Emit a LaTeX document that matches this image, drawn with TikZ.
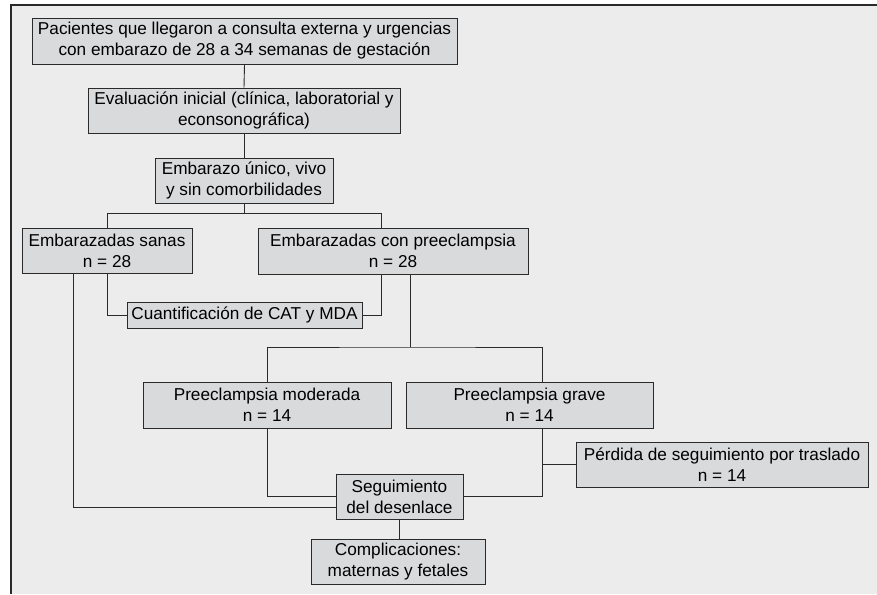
\documentclass[tikz,border=0pt]{standalone}
\usepackage{fontspec}
\setmainfont{Liberation Sans}
\usetikzlibrary{positioning,calc}
\definecolor{fondo}{HTML}{ECECEC}
\definecolor{caja}{HTML}{D9DADC}
\definecolor{linea}{HTML}{2A2A2A}
\tikzset{
  bx/.style={rectangle,draw=linea,fill=caja,line width=0.9pt,align=center,inner sep=0pt,
    font=\fontsize{17.2}{21}\selectfont},
  con/.style={draw=linea,line width=0.9pt},
}

\begin{document}
\begin{tikzpicture}[x=1pt,y=-1pt]
  \useasboundingbox (0,0) rectangle (877,594);
  \fill[fondo] (11,5) rectangle (877,594);
  \draw[linea,line width=1.4pt] (11,594) -- (11,5) -- (877,5);
  \node[bx,minimum width=425pt,minimum height=46pt] (pac) at (244.5,41) {Pacientes que llegaron a consulta externa y urgencias\\con embarazo de 28 a 34 semanas de gestación};
  \node[bx,minimum width=312pt,minimum height=45pt] (eval) at (244,110.5) {Evaluación inicial (clínica, laboratorial y\\econsonográfica)};
  \node[bx,minimum width=178pt,minimum height=45pt] (unico) at (244,180.5) {Embarazo único, vivo\\y sin comorbilidades};
  \node[bx,minimum width=170pt,minimum height=45pt] (sanas) at (107,250.5) {Embarazadas sanas\\n = 28};
  \node[bx,minimum width=270pt,minimum height=46pt] (pree) at (393,251) {Embarazadas con preeclampsia\\n = 28};
  \node[bx,minimum width=235pt,minimum height=26pt] (cat) at (244.5,315) {Cuantificación de CAT y MDA};
  \node[bx,minimum width=248pt,minimum height=46pt] (mod) at (267,405) {Preeclampsia moderada\\n = 14};
  \node[bx,minimum width=247pt,minimum height=46pt] (grave) at (529.5,405) {Preeclampsia grave\\n = 14};
  \node[bx,minimum width=292pt,minimum height=45pt] (perd) at (722,464.5) {Pérdida de seguimiento por traslado\\n = 14};
  \node[bx,minimum width=127pt,minimum height=45pt] (seg) at (399.5,496.5) {Seguimiento\\del desenlace};
  \node[bx,minimum width=174pt,minimum height=45pt] (comp) at (398,561.5) {Complicaciones:\\maternas y fetales};
  \coordinate (div1) at ($(unico.south)+(0,10)$);
  \coordinate (div2) at (410,347);
  \draw[con] (pac.south) -- (eval.north);
  \draw[con] (eval.south) -- (unico.north);
  \draw[con] (unico.south) -- (div1);
  \draw[con] (sanas.north) |- (div1) -| ([xshift=-12pt]pree.north);
  \draw[con] (sanas.south) |- (cat.west);
  \draw[con] ([xshift=-12pt]pree.south) |- (cat.east);
  \draw[con] ([xshift=17pt]pree.south) -- (div2);
  \draw[con] (mod.north) |- (div2) -| ([xshift=12.5pt]grave.north);
  \draw[con] (mod.south) |- (seg.west);
  \draw[con] ([xshift=12.5pt]grave.south) |- (seg.east);
  \draw[con] (perd.west) -- ([xshift=12.5pt]grave.south |- perd.west);
  \draw[con] ([xshift=-34pt]sanas.south) |- ($(seg.west)+(0,10.5)$);
  \draw[con] (seg.south) -- (seg.south |- comp.north);
\end{tikzpicture}
\end{document}
